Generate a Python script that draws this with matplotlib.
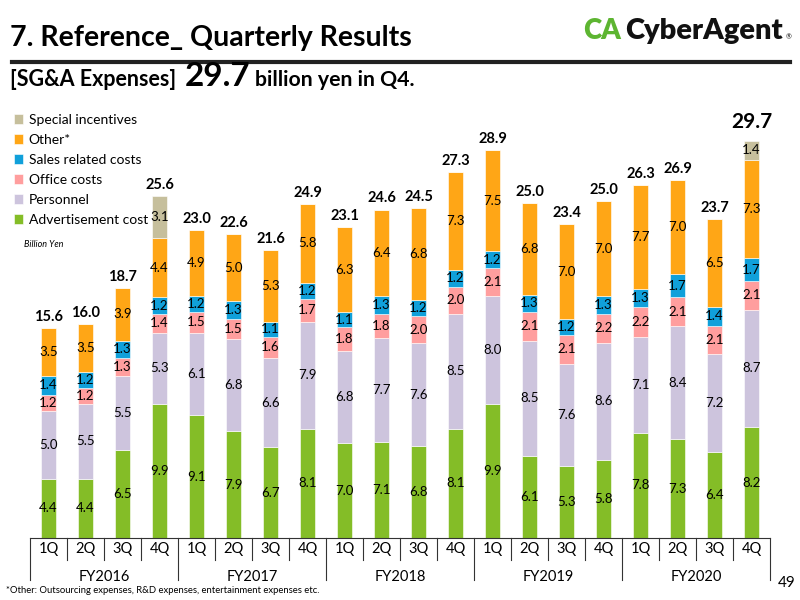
import numpy as np
import matplotlib.pyplot as plt
import matplotlib.transforms as mtransforms

plt.rcParams['font.family'] = ['Lato', 'DejaVu Sans']

# --- Data (billion yen) ---
years = ['FY2016', 'FY2017', 'FY2018', 'FY2019', 'FY2020']
quarters = ['1Q', '2Q', '3Q', '4Q'] * 5

advertisement = [4.4, 4.4, 6.5, 9.9, 9.1, 7.9, 6.7, 8.1, 7.0, 7.1, 6.8, 8.1, 9.9, 6.1, 5.3, 5.8, 7.8, 7.3, 6.4, 8.2]
personnel = [5.0, 5.5, 5.5, 5.3, 6.1, 6.8, 6.6, 7.9, 6.8, 7.7, 7.6, 8.5, 8.0, 8.5, 7.6, 8.6, 7.1, 8.4, 7.2, 8.7]
office = [1.2, 1.2, 1.3, 1.4, 1.5, 1.5, 1.6, 1.7, 1.8, 1.8, 2.0, 2.0, 2.1, 2.1, 2.1, 2.2, 2.2, 2.1, 2.1, 2.1]
sales = [1.4, 1.2, 1.3, 1.2, 1.2, 1.3, 1.1, 1.2, 1.1, 1.3, 1.2, 1.2, 1.2, 1.3, 1.2, 1.3, 1.3, 1.7, 1.4, 1.7]
other = [3.5, 3.5, 3.9, 4.4, 4.9, 5.0, 5.3, 5.8, 6.3, 6.4, 6.8, 7.3, 7.5, 6.8, 7.0, 7.0, 7.7, 7.0, 6.5, 7.3]
special = [0, 0, 0, 3.1, 0, 0, 0, 0, 0, 0, 0, 0, 0, 0, 0, 0, 0, 0, 0, 1.4]
totals = [15.6, 16.0, 18.7, 25.6, 23.0, 22.6, 21.6, 24.9, 23.1, 24.6, 24.5, 27.3, 28.9, 25.0, 23.4, 25.0, 26.3, 26.9, 23.7, 29.7]

series = [
    ('Advertisement cost', advertisement, '#84BD27'),
    ('Personnel', personnel, '#CDC4DD'),
    ('Office costs', office, '#FF9E9E'),
    ('Sales related costs', sales, '#10A0DA'),
    ('Other*', other, '#FFA616'),
    ('Special incentives', special, '#C6BF9C'),
]

fig = plt.figure(figsize=(8, 6), dpi=100)

# --- Header ---
fig.text(0.012, 0.937, '7. Reference_ Quarterly Results', fontsize=20.5, fontweight='bold', va='center')
fig.add_artist(plt.Line2D([0.015, 0.988], [0.897, 0.897], color='#222222', linewidth=3))
fig.text(0.729, 0.935, 'CA', fontsize=20, fontweight='heavy', color='#5DB531', va='baseline')
fig.text(0.782, 0.935, 'CyberAgent', fontsize=21, fontweight='heavy', color='#111111', va='baseline')
fig.text(0.982, 0.935, '®', fontsize=5, color='#111111', va='baseline')
fig.text(0.012, 0.857, '[SG&A Expenses]', fontsize=15.5, fontweight='bold', va='baseline')
fig.text(0.231, 0.857, '29.7', fontsize=24, fontweight='bold', va='baseline')
fig.text(0.319, 0.857, 'billion yen in Q4.', fontsize=15.3, fontweight='bold', va='baseline')

# --- Chart ---
ax = fig.add_axes([0.0375, 0.1033, 0.925, 0.73])
x = np.arange(len(totals))
bottom = np.zeros(len(totals))
for name, vals, color in series:
    vals = np.array(vals)
    ax.bar(x, vals, 0.4, bottom=bottom, color=color, edgecolor='white', linewidth=0.4, label=name)
    for xi, b, v in zip(x, bottom, vals):
        if v > 0:
            ax.text(xi, b + v / 2, f'{v:.1f}', ha='center', va='center', fontsize=9.5)
    bottom += vals

for xi, top, t in zip(x, bottom, totals):
    big = xi == len(totals) - 1
    ax.text(xi, top + (0.6 if big else 0.3), f'{t:.1f}', ha='center', va='bottom',
            fontsize=15 if big else 10.5, fontweight='bold')

ax.set_xlim(-0.5, len(totals) - 0.5)
ax.set_ylim(0, 32.4)
for s in ['top', 'right', 'left']:
    ax.spines[s].set_visible(False)
ax.spines['bottom'].set_color('#333333')
ax.set_xticks([])
ax.set_yticks([])

# category axis: quarter labels, dividers, fiscal years
trans = mtransforms.blended_transform_factory(ax.transData, fig.transFigure)
for i in range(len(totals) + 1):
    xb = i - 0.5
    y_end = 0.033 if i % 4 == 0 else 0.067
    ax.plot([xb, xb], [0.1033, y_end], color='#333333', linewidth=0.8, transform=trans, clip_on=False)
for xi, q in zip(x, quarters):
    ax.text(xi, 0.085, q, ha='center', va='center', fontsize=10.5, transform=trans)
for k, y in enumerate(years):
    ax.text(4 * k + 1.5, 0.038, y, ha='center', va='center', fontsize=10.5, transform=trans)

# legend
handles, labels = ax.get_legend_handles_labels()
fig.legend(handles[::-1], labels[::-1], loc='upper left', bbox_to_anchor=(0.01, 0.82),
           frameon=False, fontsize=10, handlelength=0.7, handleheight=0.7,
           handletextpad=0.4, labelspacing=0.58, borderaxespad=0)
fig.text(0.03, 0.592, 'Billion Yen', fontsize=6.5, style='italic', va='center')

# footer
fig.text(0.008, 0.012, '*Other: Outsourcing expenses, R&D expenses, entertainment expenses etc.', fontsize=6.8)
fig.text(0.972, 0.028, '49', fontsize=11, va='center')

fig.savefig('out.png', dpi=100)
